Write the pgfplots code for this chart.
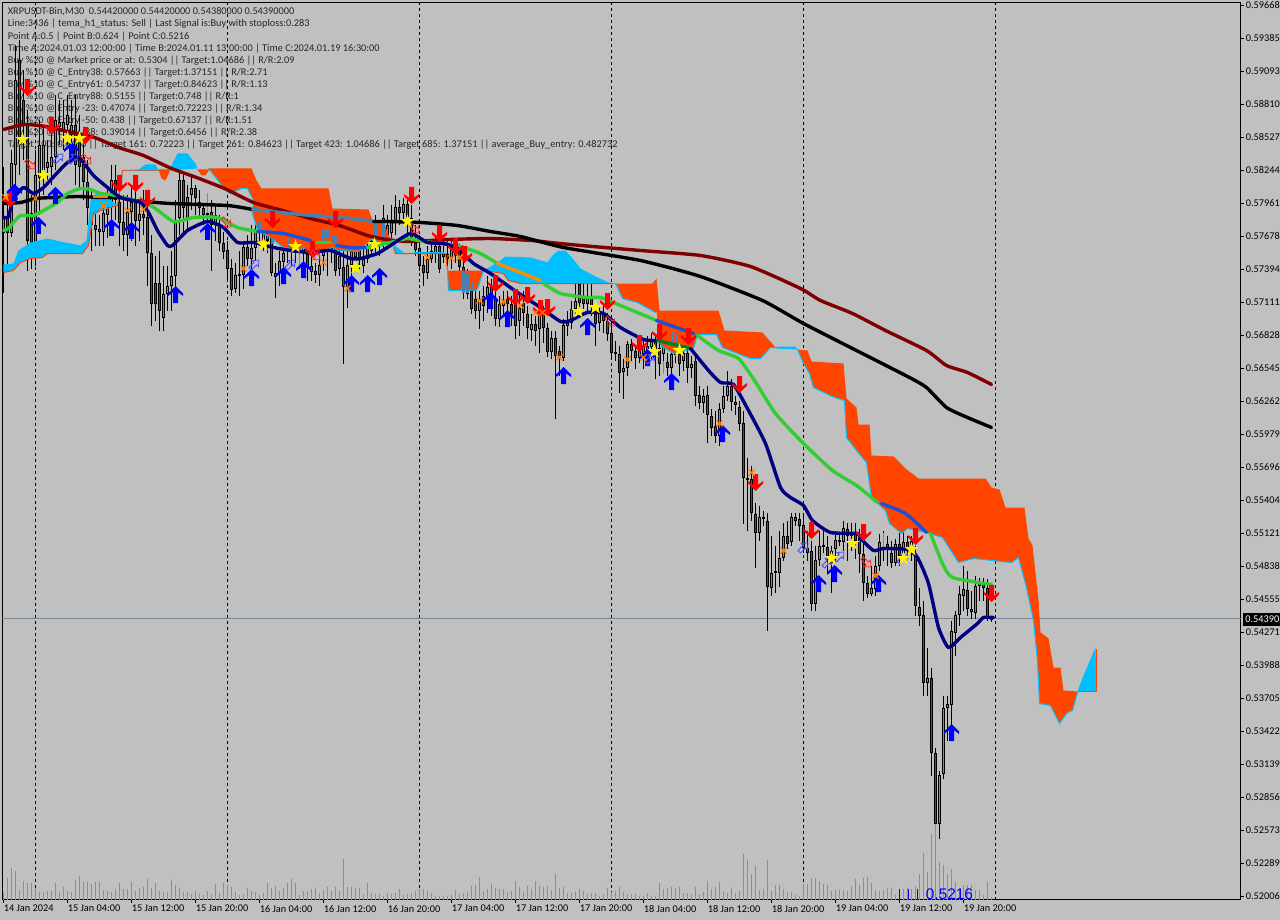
\documentclass[border=0pt]{standalone}
\usepackage{fontspec}
\setmainfont{Carlito}
\newfontfamily\labelfont{Liberation Sans}
\usepackage{pgfplots}
\usepackage{pgfplotstable}
\pgfplotsset{compat=1.18}
\usetikzlibrary{plotmarks}

\definecolor{chartbg}{HTML}{C0C0C0}
\definecolor{bull}{HTML}{2FC070}
\definecolor{bear}{HTML}{D80F40}
\definecolor{cloudor}{HTML}{FF4500}
\definecolor{cloudbl}{HTML}{00BFFF}
\definecolor{madred}{HTML}{800000}
\definecolor{magreen}{HTML}{32CD32}
\definecolor{manavy}{HTML}{000080}
\definecolor{steelx}{HTML}{4682B4}
\definecolor{royalx}{HTML}{1E4FD8}
\definecolor{pricegray}{HTML}{778899}

\pgfplotsset{
  vbar/.style n args={2}{draw=none,no markers,forget plot,error bars/.cd,y dir=plus,y explicit,error mark=none,error bar style={draw=#1,line width=#2}},
  ma/.style={line width=1.7pt,line join=round,line cap=round,smooth,tension=0.35},
}

\pgfdeclareplotmark{dnarrow}{%
  \pgftransformscale{1.25}
  \pgfpathmoveto{\pgfqpoint{0pt}{-3.4pt}}
  \pgfpathlineto{\pgfqpoint{3pt}{-0.4pt}}
  \pgfpathlineto{\pgfqpoint{3pt}{0.6pt}}
  \pgfpathlineto{\pgfqpoint{1pt}{-0.9pt}}
  \pgfpathlineto{\pgfqpoint{1pt}{3.4pt}}
  \pgfpathlineto{\pgfqpoint{-1pt}{3.4pt}}
  \pgfpathlineto{\pgfqpoint{-1pt}{-0.9pt}}
  \pgfpathlineto{\pgfqpoint{-3pt}{0.6pt}}
  \pgfpathlineto{\pgfqpoint{-3pt}{-0.4pt}}
  \pgfpathclose\pgfusepathqfill}
\pgfdeclareplotmark{uparrow}{%
  \pgftransformscale{1.25}
  \pgfpathmoveto{\pgfqpoint{0pt}{3.4pt}}
  \pgfpathlineto{\pgfqpoint{3pt}{0.4pt}}
  \pgfpathlineto{\pgfqpoint{3pt}{-0.6pt}}
  \pgfpathlineto{\pgfqpoint{1pt}{0.9pt}}
  \pgfpathlineto{\pgfqpoint{1pt}{-3.4pt}}
  \pgfpathlineto{\pgfqpoint{-1pt}{-3.4pt}}
  \pgfpathlineto{\pgfqpoint{-1pt}{0.9pt}}
  \pgfpathlineto{\pgfqpoint{-3pt}{-0.6pt}}
  \pgfpathlineto{\pgfqpoint{-3pt}{0.4pt}}
  \pgfpathclose\pgfusepathqfill}
\pgfdeclareplotmark{ystar}{%
  \pgftransformscale{1.15}
  \pgfpathmoveto{\pgfqpoint{0pt}{3.2pt}}
  \pgfpathlineto{\pgfqpoint{-0.73pt}{1.01pt}}
  \pgfpathlineto{\pgfqpoint{-3.04pt}{0.99pt}}
  \pgfpathlineto{\pgfqpoint{-1.19pt}{-0.39pt}}
  \pgfpathlineto{\pgfqpoint{-1.88pt}{-2.59pt}}
  \pgfpathlineto{\pgfqpoint{0pt}{-1.25pt}}
  \pgfpathlineto{\pgfqpoint{1.88pt}{-2.59pt}}
  \pgfpathlineto{\pgfqpoint{1.19pt}{-0.39pt}}
  \pgfpathlineto{\pgfqpoint{3.04pt}{0.99pt}}
  \pgfpathlineto{\pgfqpoint{0.73pt}{1.01pt}}
  \pgfpathclose\pgfusepathqfill}
\newcommand{\hollowpath}{%
  \pgfpathmoveto{\pgfqpoint{0pt}{3.2pt}}
  \pgfpathlineto{\pgfqpoint{-2.2pt}{0.6pt}}
  \pgfpathlineto{\pgfqpoint{-0.9pt}{0.6pt}}
  \pgfpathlineto{\pgfqpoint{-0.9pt}{-3pt}}
  \pgfpathlineto{\pgfqpoint{0.9pt}{-3pt}}
  \pgfpathlineto{\pgfqpoint{0.9pt}{0.6pt}}
  \pgfpathlineto{\pgfqpoint{2.2pt}{0.6pt}}
  \pgfpathclose\pgfusepathqstroke}
\pgfdeclareplotmark{hollowup}{\pgftransformrotate{-45}\hollowpath}
\pgfdeclareplotmark{hollowdn}{\pgftransformrotate{-135}\hollowpath}

% candles, in chart rows: x, body top, body bottom, wick top, wick bottom
\pgfplotstableread{
x top bot hi lo
3 217 233 167 292
11 163 233 150 237
15 80 165 45 200
35 175 242 150 265
39 145 178 120 215
43 145 170 125 195
47 162 168 140 185
51 157 167 125 185
55 120 157 95 170
59 122 127 100 145
63 122 130 100 150
67 115 125 95 145
71 125 135 100 160
99 229 232 215 245
103 213 232 195 245
107 207 215 190 238
111 180 207 165 225
127 212 235 195 255
131 202 212 188 240
139 214 221 200 240
163 293 317 265 330
167 285 293 265 310
171 275 285 250 310
175 220 275 200 285
179 180 218 165 235
187 197 220 185 230
191 188 195 175 210
207 213 215 193 235
215 215 225 205 240
235 274 288 262 292
239 273 275 250 295
243 246 274 240 288
251 247 258 225 270
255 232 247 220 260
259 222 232 205 240
263 230 240 215 250
267 233 240 220 252
279 260 272 250 285
283 252 261 242 270
287 238 248 228 262
291 240 250 225 265
299 242 250 232 268
303 240 252 230 262
319 264 274 250 285
323 229 255 215 270
331 235 248 225 262
339 255 268 245 275
347 264 287 250 307
351 250 264 240 275
355 242 256 230 268
363 258 265 235 272
367 247 258 225 262
371 240 250 222 255
375 233 245 215 252
383 218 240 205 248
387 225 235 215 243
391 222 233 205 238
395 207 222 195 235
403 204 213 198 220
427 258 272 245 278
431 250 258 240 262
435 245 253 235 262
451 247 257 240 268
455 247 255 238 262
467 280 293 268 298
479 298 310 290 328
487 286 298 275 312
499 303 318 295 326
503 300 305 290 315
519 307 320 295 335
531 323 329 313 340
539 308 328 300 352
551 337 351 330 358
563 324 357 318 360
567 322 325 310 335
571 308 322 300 328
575 300 308 282 318
587 297 303 283 310
599 310 322 305 330
623 367 371 358 398
627 343 367 340 375
639 345 357 338 362
643 346 357 338 368
647 345 352 335 362
651 340 346 332 358
663 345 353 338 370
671 353 367 345 372
675 345 354 335 362
683 352 360 345 370
691 363 367 355 377
703 395 402 388 412
719 408 435 402 445
723 395 408 385 412
727 385 395 370 400
759 516 532 505 540
771 572 587 535 595
775 570 572 545 592
779 557 572 530 586
783 535 557 522 560
791 516 541 512 545
815 559 603 545 610
819 545 559 530 565
831 550 562 545 592
835 539 548 530 560
843 527 541 520 550
851 532 535 522 550
871 587 593 565 595
875 565 588 555 595
879 541 565 533 570
883 546 548 530 560
895 543 562 538 565
903 541 552 530 556
927 677 682 647 695
939 774 823 770 838
943 707 773 695 778
947 703 707 695 740
951 630 704 620 725
955 614 632 610 655
959 593 614 585 625
963 588 595 565 610
975 585 612 575 618
979 582 585 577 600
}\upbars
\pgfplotstableread{
x top bot hi lo
7 218 233 205 265
19 60 145 40 175
23 100 125 70 160
27 125 240 110 270
31 213 242 195 268
75 125 165 95 185
79 140 167 115 190
83 157 182 135 200
87 182 208 160 225
91 208 225 190 250
95 225 230 205 245
115 180 200 165 220
119 202 223 180 245
123 222 235 195 250
135 202 221 185 245
143 214 218 190 235
147 217 252 205 285
151 252 303 235 325
155 282 303 255 320
159 282 310 250 330
183 180 208 175 235
195 188 198 185 215
199 202 208 190 218
203 208 215 203 225
211 212 225 200 270
219 225 242 215 250
223 242 251 232 258
227 249 268 240 278
231 267 289 258 295
247 246 258 235 265
271 237 272 228 275
275 272 276 262 297
295 245 250 232 262
307 253 266 240 280
311 265 271 255 280
315 270 274 262 282
327 229 250 220 275
335 236 270 225 275
343 266 286 240 363
359 245 258 235 268
379 235 245 225 255
399 207 213 200 225
407 204 218 200 240
411 218 240 205 245
415 242 249 225 255
419 247 265 235 270
423 264 272 255 285
439 245 268 235 272
443 252 256 240 262
447 253 258 240 265
459 250 266 243 270
463 266 292 258 298
471 290 308 272 313
475 298 310 285 318
483 295 305 285 320
491 285 298 278 315
495 298 318 290 325
507 298 303 290 318
511 303 313 295 325
515 297 325 290 338
523 302 312 290 325
527 313 327 305 338
535 323 330 315 345
543 310 327 305 342
547 327 351 322 356
555 337 355 330 418
559 350 358 345 375
579 283 302 280 312
583 295 303 283 310
591 297 305 283 315
595 313 323 305 345
603 312 320 305 332
607 320 333 312 340
611 332 352 318 358
615 351 353 340 360
619 353 372 345 392
631 343 350 338 360
635 350 357 345 368
655 340 348 335 378
659 347 363 340 375
667 361 367 352 375
679 353 363 348 375
687 352 367 345 382
695 360 395 352 405
699 394 402 385 408
707 394 414 385 442
711 415 427 408 435
715 425 435 410 442
731 385 401 378 410
735 401 404 395 414
739 406 423 400 430
743 422 477 410 523
747 477 479 457 530
751 478 512 465 520
755 513 532 502 567
763 516 518 510 525
767 520 586 512 630
787 535 543 520 548
795 516 520 512 525
799 518 525 512 540
803 524 547 512 552
807 547 552 530 560
811 550 603 540 610
823 544 546 530 552
827 546 557 535 572
839 539 541 532 545
847 528 535 522 560
855 533 540 522 558
859 537 553 528 572
863 553 582 540 600
867 582 593 575 597
887 543 548 535 565
891 552 562 540 567
899 543 555 532 565
907 541 547 535 558
911 540 552 535 560
915 552 605 545 615
919 606 615 587 625
923 614 682 600 695
931 677 752 667 775
935 752 823 747 823
967 589 608 570 615
971 608 611 590 618
983 582 587 577 600
987 587 617 578 620
991 617 619 616 621
}\downbars
% bars seen through the cloud
\pgfplotstableread{
x top bot
259 222 230
272 237 243
288 238 248
323 229 240
327 229 238
332 235 240
335 236 242
375 223 237
383 223 238
463 271 292
467 273 292
472 280 290
672 330 343
676 332 342
}\seenbars
\pgfplotstableread{
x top bot
207 193 213
299 252 267
358 262 272
663 360 373
883 532 547
}\signalbars
% tick volume, bar height in rows
\pgfplotstableread[row sep=\\]{
x h\\ 3 8\\ 7 22\\ 11 32\\ 15 29\\ 19 10\\ 23 19\\ 27 17\\ 31 17\\ 35 12\\ 39 8\\
43 8\\ 47 9\\ 51 9\\ 55 17\\ 59 8\\ 63 13\\ 67 9\\ 71 8\\ 75 20\\ 79 24\\
83 18\\ 87 18\\ 91 16\\ 95 18\\ 99 18\\ 103 10\\ 107 9\\ 111 8\\ 115 11\\ 119 17\\
123 11\\ 127 11\\ 131 18\\ 135 9\\ 139 12\\ 143 13\\ 147 21\\ 151 12\\ 155 17\\ 159 9\\
163 8\\ 167 8\\ 171 20\\ 175 15\\ 179 12\\ 183 8\\ 187 8\\ 191 6\\ 195 9\\ 199 6\\
203 5\\ 207 9\\ 211 6\\ 215 16\\ 219 7\\ 223 17\\ 227 15\\ 231 13\\ 235 8\\ 239 5\\
243 6\\ 247 12\\ 251 9\\ 255 8\\ 259 5\\ 263 7\\ 267 17\\ 271 12\\ 275 14\\ 279 9\\
283 12\\ 287 17\\ 291 21\\ 295 17\\ 299 5\\ 303 9\\ 307 9\\ 311 11\\ 315 12\\ 319 7\\
323 10\\ 327 13\\ 331 9\\ 335 13\\ 339 9\\ 343 41\\ 347 13\\ 351 13\\ 355 12\\ 359 12\\
363 6\\ 367 17\\ 371 7\\ 375 6\\ 379 6\\ 383 4\\ 387 7\\ 391 6\\ 395 7\\ 399 11\\
403 5\\ 407 6\\ 411 7\\ 415 9\\ 419 11\\ 423 11\\ 427 9\\ 431 7\\ 435 4\\ 439 4\\
443 4\\ 447 4\\ 451 5\\ 455 10\\ 459 6\\ 463 7\\ 467 8\\ 471 14\\ 475 15\\ 479 23\\
483 9\\ 487 11\\ 491 16\\ 495 12\\ 499 11\\ 503 11\\ 507 8\\ 511 9\\ 515 19\\ 519 13\\
523 8\\ 527 14\\ 531 11\\ 535 19\\ 539 14\\ 543 13\\ 547 14\\ 551 10\\ 555 26\\ 559 12\\
563 13\\ 567 7\\ 571 7\\ 575 8\\ 579 11\\ 583 9\\ 587 6\\ 591 7\\ 595 7\\ 599 4\\
603 6\\ 607 12\\ 611 8\\ 615 9\\ 619 13\\ 623 8\\ 627 6\\ 631 6\\ 635 6\\ 639 4\\
643 4\\ 647 7\\ 651 4\\ 655 4\\ 659 17\\ 663 11\\ 667 12\\ 671 13\\ 675 12\\ 679 13\\
683 7\\ 687 7\\ 691 6\\ 695 13\\ 699 6\\ 703 8\\ 707 19\\ 711 11\\ 715 13\\ 719 18\\
723 8\\ 727 7\\ 731 12\\ 735 7\\ 739 9\\ 743 46\\ 747 40\\ 751 26\\ 755 34\\ 759 10\\
763 11\\ 767 40\\ 771 9\\ 775 15\\ 779 15\\ 783 11\\ 787 8\\ 791 8\\ 795 5\\ 799 4\\
803 16\\ 807 16\\ 811 22\\ 815 22\\ 819 19\\ 823 16\\ 827 15\\ 831 9\\ 835 10\\ 839 10\\
843 10\\ 847 9\\ 851 14\\ 855 21\\ 859 15\\ 863 22\\ 867 23\\ 871 17\\ 875 10\\ 879 9\\
883 10\\ 887 12\\ 891 12\\ 895 5\\ 899 9\\ 903 11\\ 907 12\\ 911 11\\ 915 14\\ 919 26\\
923 47\\ 927 28\\ 931 66\\ 935 77\\ 939 38\\ 943 35\\ 947 26\\ 951 31\\ 955 18\\ 959 12\\
963 15\\ 967 15\\ 971 15\\ 975 10\\ 979 10\\ 983 5\\ 987 18\\ 991 3\\
}\volumes

\newcommand{\hfont}{\fontsize{5.15}{6}\selectfont}
\newcommand{\hdr}[2]{\node[anchor=west,inner sep=0pt,font=\hfont,text=black!85] at (axis cs:7,#1) {#2};}

\begin{document}
\begin{tikzpicture}[x=1pt,y=1pt]
\useasboundingbox (0,0) rectangle (640,460);
\fill[chartbg] (0,0) rectangle (640,460);
\begin{axis}[
  at={(1.25pt,10.25pt)}, anchor=south west,
  scale only axis, width=619pt, height=448.5pt,
  xmin=2, xmax=1240, ymin=2, ymax=899, y dir=reverse,
  axis line style={line width=0.5pt},
  tick align=outside, major tick length=1.5pt,
  tick style={line width=0.5pt,black},
  xtick pos=bottom, ytick pos=right,
  xtick={3,67,131,195,259,323,387,451,515,579,643,707,771,835,899,963},
  xticklabels={14 Jan 2024,15 Jan 04:00,15 Jan 12:00,15 Jan 20:00,16 Jan 04:00,16 Jan 12:00,16 Jan 20:00,17 Jan 04:00,17 Jan 12:00,17 Jan 20:00,18 Jan 04:00,18 Jan 12:00,18 Jan 20:00,19 Jan 04:00,19 Jan 12:00,19 Jan 20:00},
  ytick={5,38,71,104,137,170,203,236,269,302,335,368,401,434,467,500,533,566,599,632,665,698,731,764,797,830,863,896},
  yticklabels={0.59668,0.59385,0.59093,0.58810,0.58527,0.58244,0.57961,0.57678,0.57394,0.57111,0.56828,0.56545,0.56262,0.55979,0.55696,0.55404,0.55121,0.54838,0.54555,0.54271,0.53988,0.53705,0.53422,0.53139,0.52856,0.52573,0.52289,0.52006},
  xticklabel style={font=\hfont,anchor=north west,inner sep=0pt,yshift=-1.2pt,xshift=0pt},
  yticklabel style={font=\hfont,anchor=west,inner sep=0pt,xshift=1pt},
]
% day separators
\addplot[black,line width=0.5pt,dash pattern=on 1.5pt off 1.5pt,unbounded coords=jump] coordinates {(35,2)(35,899)(35,nan)(227,2)(227,899)(227,nan)(419,2)(419,899)(419,nan)(611,2)(611,899)(611,nan)(803,2)(803,899)(803,nan)(995,2)(995,899)};
% last price
\addplot[pricegray,line width=0.5pt] coordinates {(2,618)(1240,618)};

\hdr{11}{XRPUSDT-Bin,M30\ \ 0.54420000 0.54420000 0.54380000 0.54390000}
\hdr{23}{Line:3436 | tema\_h1\_status: Sell | Last Signal is:Buy with stoploss:0.283}
\hdr{36}{Point A:0.5 | Point B:0.624 | Point C:0.5216}
\hdr{48}{Time A:2024.01.03 12:00:00 | Time B:2024.01.11 13:00:00 | Time C:2024.01.19 16:30:00}
\hdr{60}{Buy \%20 @ Market price or at: 0.5304 || Target:1.04686 || R/R:2.09}
\hdr{72}{Buy \%10 @ C\_Entry38: 0.57663 || Target:1.37151 || R/R:2.71}
\hdr{84}{Buy \%10 @ C\_Entry61: 0.54737 || Target:0.84623 || R/R:1.13}
\hdr{96}{Buy \%10 @ C\_Entry88: 0.5155 || Target:0.748 || R/R:1}
\hdr{108}{Buy \%10 @ Entry -23: 0.47074 || Target:0.72223 || R/R:1.34}
\hdr{120}{Buy \%20 @ Entry -50: 0.438 || Target:0.67137 || R/R:1.51}
\hdr{132}{Buy \%20 @ Entry -88: 0.39014 || Target:0.6456 || R/R:2.38}
\hdr{144}{Target 100: 0.6456 || Target 161: 0.72223 || Target 261: 0.84623 || Target 423: 1.04686 || Target 685: 1.37151 || average\_Buy\_entry: 0.482732}

% volume
\addplot[vbar={magreen}{0.7pt}] table[x=x,y expr=899-\thisrow{h},y error plus expr=\thisrow{h}] {\volumes};

% wicks
\addplot[vbar={black}{0.5pt}] table[x=x,y=hi,y error plus expr=\thisrow{lo}-\thisrow{hi}] {\upbars};
\addplot[vbar={black}{0.5pt}] table[x=x,y=hi,y error plus expr=\thisrow{lo}-\thisrow{hi}] {\downbars};
% bodies: black box, coloured core
\addplot[vbar={black}{1.6pt}] table[x=x,y=top,y error plus expr=\thisrow{bot}-\thisrow{top}] {\upbars};
\addplot[vbar={black}{1.6pt}] table[x=x,y=top,y error plus expr=\thisrow{bot}-\thisrow{top}] {\downbars};
\addplot[vbar={bull}{0.85pt}] table[x=x,y expr=\thisrow{top}+1,y error plus expr={max(\thisrow{bot}-\thisrow{top}-2,0)}] {\upbars};
\addplot[vbar={bear}{0.85pt}] table[x=x,y expr=\thisrow{top}+1,y error plus expr={max(\thisrow{bot}-\thisrow{top}-2,0)}] {\downbars};

% cloud
\addplot[draw=none,fill=cloudbl] coordinates {(3,264)(13,263)(18,250)(30,242)(47,238)(60,241)(80,245)(86,240)(90,200)(98,190)(107,197)(117,205)(103,208)(93,215)(88,245)(82,253)(47,253)(42,257)(30,258)(20,262)(13,270)(3,272)} --cycle;
\addplot[cloudor,line width=0.5pt] coordinates {(3,272)(13,270)(20,262)(30,258)(42,257)(47,253)(82,253)(88,245)(93,212)(117,205)(122,170)(158,170)};
\addplot[draw=none,fill=cloudbl] coordinates {(122,170)(138,169)(145,164)(155,164)(158,170)} --cycle;
\addplot[draw=none,fill=cloudor] coordinates {(158,169)(170,169)(165,180)(161,178)} --cycle;
\addplot[draw=none,fill=cloudbl] coordinates {(168,170)(172,163)(177,153)(187,153)(195,163)(197,168)} --cycle;
\addplot[draw=none,fill=cloudor] coordinates {(197,169)(209,169)(205,175)(201,175)} --cycle;
\addplot[draw=none,fill=cloudor] coordinates {(208,168)(251,168)(256,180)(261,188)(328,188)(332,208)(368,209)(372,220)(383,220)(387,232)(392,243)(377,242)(373,237)(358,251)(337,250)(332,247)(313,255)(303,247)(295,252)(287,247)(283,247)(270,237)(257,230)(252,213)(253,200)(247,188)(241,188)(229,193)(220,183)} --cycle;
\addplot[cloudbl,line width=0.5pt] coordinates {(208,168)(220,183)(229,193)(241,188)(247,188)(253,200)(252,213)(257,230)(270,237)(283,247)(287,247)(295,252)(303,247)(313,255)(332,247)(337,250)(358,251)(373,237)(377,242)(392,243)};
\addplot[draw=none,fill=cloudbl] coordinates {(392,243)(403,252)(395,253)} --cycle;
\addplot[cloudor,line width=0.5pt] coordinates {(393,247)(395,253)(445,253)(447,270)};
\addplot[cloudbl,line width=0.5pt] coordinates {(413,252)(443,252)};
\addplot[draw=none,fill=cloudor] coordinates {(447,270)(483,270)(478,287)(476,290)(448,290)} --cycle;
\addplot[cloudbl,line width=0.5pt] coordinates {(447,270)(448,290)(476,290)(483,270)};
\addplot[draw=none,fill=cloudbl] coordinates {(483,270)(497,262)(505,256)(530,257)(547,262)(552,255)(558,250)(565,250)(572,258)(580,268)(593,275)(608,282)(613,283)(520,283)(508,280)(503,273)} --cycle;
\addplot[cloudor,line width=0.5pt] coordinates {(483,270)(503,273)(508,280)(520,283)(613,283)};
\addplot[draw=none,fill=cloudor] coordinates {(613,283)(652,283)(656,278)(659,310)(655,312)(637,302)(622,298)(617,285)} --cycle;
\addplot[cloudbl,line width=0.5pt] coordinates {(615,283)(622,298)(637,302)(655,312)};
\addplot[draw=none,fill=cloudor] coordinates {(656,310)(718,310)(724,330)(762,332)(775,347)(770,347)(760,358)(750,358)(722,347)(716,334)(697,334)(693,348)(673,353)(660,345)(657,320)} --cycle;
\addplot[cloudbl,line width=0.5pt] coordinates {(657,320)(660,345)(673,353)(693,348)(697,334)(716,334)(722,347)(750,358)(760,358)(770,347)(775,347)};
\addplot[draw=none,fill=cloudbl] coordinates {(775,346)(795,346)(797,349)(775,348)} --cycle;
\addplot[draw=none,fill=cloudor] coordinates {(797,349)(807,350)(811,361)(843,363)(846,398)(856,407)(858,424)(869,424)(871,455)(893,456)(905,468)(918,478)(985,478)(991,487)(999,489)(1005,507)(1024,507)(1028,538)(1032,545)(1038,600)(1040,632)(1048,638)(1053,667)(1060,667)(1063,690)(1077,691)(1072,710)(1067,712)(1059,723)(1050,705)(1039,703)(1037,660)(1033,620)(1026,587)(1018,557)(1011,562)(973,558)(958,562)(942,537)(926,532)(907,528)(901,533)(889,523)(885,510)(871,497)(866,462)(856,450)(846,437)(844,400)(834,397)(813,387)(809,373)(803,363)} --cycle;
\addplot[cloudbl,line width=0.5pt] coordinates {(797,349)(803,363)(809,373)(813,387)(834,397)(844,400)(846,437)(856,450)(866,462)(871,497)(885,510)(889,523)(901,533)(907,528)(926,532)(942,537)(958,562)(973,558)(1011,562)(1018,557)(1026,587)(1033,620)(1037,660)(1039,703)(1050,705)(1059,723)(1067,712)(1072,710)(1077,692)};
\addplot[draw=none,fill=cloudbl] coordinates {(1077,691)(1083,675)(1095,647)(1096,691)} --cycle;
\addplot[cloudor,line width=0.5pt] coordinates {(1077,691)(1096,691)(1096,648)};

% candle bodies showing through
\addplot[vbar={steelx}{1.5pt}] table[x=x,y=top,y error plus expr=\thisrow{bot}-\thisrow{top}] {\seenbars};
\addplot[vbar={green!90!black}{0.5pt}] table[x=x,y=top,y error plus expr=\thisrow{bot}-\thisrow{top}] {\signalbars};

% moving averages
\addplot[madred,ma] coordinates {(3,129)(24,124)(45,126)(71,132)(94,137)(118,147)(143,155)(171,168)(196,177)(224,188)(253,202)(282,210)(310,218)(339,225)(367,235)(386,239)(408,241)(449,239)(490,238)(531,240)(559,243)(592,246)(640,250)(700,255)(750,266)(800,288)(820,300)(852,313)(885,330)(926,350)(946,365)(967,372)(991,384)};
\addplot[black,ma] coordinates {(3,203)(20,202)(35,198)(53,197)(77,196)(100,197)(120,197)(133,200)(170,203)(227,205)(252,209)};
\addplot[steelx,ma] coordinates {(252,209)(300,214)(350,218)(373,221)};
\addplot[black,ma] coordinates {(373,221)(387,221)(420,222)(457,225)(490,231)(520,236)(563,247)(640,260)(700,276)(762,300)(803,323)(852,348)(909,377)(926,387)(946,407)(967,417)(991,427)};
\addplot[magreen,ma] coordinates {(3,230)(8,228)(13,222)(20,215)(33,215)(43,210)(57,202)(67,193)(80,188)(90,189)(100,193)(115,195)(150,205)(173,221)(193,217)(217,217)(237,227)(257,231)};
\addplot[royalx,ma] coordinates {(257,231)(283,233)(310,240)};
\addplot[magreen,ma] coordinates {(313,242)(330,242)};
\addplot[royalx,ma] coordinates {(336,245)(350,247)(367,247)};
\addplot[magreen,ma] coordinates {(367,247)(390,242)(407,238)(423,241)(440,243)(460,246)(480,253)(497,263)};
\addplot[orange!90!yellow,ma] coordinates {(497,263)(520,272)(540,280)};
\addplot[magreen,ma] coordinates {(543,283)(560,293)(587,297)(600,297)(620,305)(656,320)};
\addplot[royalx,ma] coordinates {(656,320)(693,333)};
\addplot[magreen,ma] coordinates {(697,335)(718,350)(738,358)(754,380)(775,413)(803,443)(832,470)(856,485)(877,502)};
\addplot[royalx,ma] coordinates {(881,503)(905,513)(926,532)};
\addplot[magreen,ma] coordinates {(930,533)(942,563)(952,577)(991,584)};
\addplot[manavy,ma] coordinates {(3,217)(8,216)(13,198)(23,187)(33,193)(43,187)(57,172)(67,162)(77,157)(83,162)(93,175)(107,187)(120,197)(140,202)(148,212)(157,230)(167,245)(172,245)(187,230)(207,221)(223,227)(237,242)(253,242)(273,247)(290,250)(310,252)(330,250)(350,258)(360,258)(377,253)(390,245)(410,233)(427,242)(443,243)(457,248)(473,263)(490,273)(517,292)(540,307)(560,321)(570,320)(587,312)(603,313)(620,327)(643,339)(657,340)};
\addplot[green!40!black!85!cyan,ma] coordinates {(657,340)(690,348)};
\addplot[manavy,ma] coordinates {(690,348)(708,370)(720,382)(733,384)(748,410)(765,443)(780,487)(790,497)(803,505)(812,520)(830,532)(857,533)(860,538)(873,550)(883,548)(907,549)(917,557)(928,583)(938,627)(948,647)(960,637)(977,623)(983,617)(993,617)};
\addplot[orange!70!brown,line width=1.5pt] coordinates {(92,196)(107,196)};

% signals
\addplot[only marks,mark=dnarrow,mark options={fill=red,draw=none}] coordinates {(10,198)(27,87)(51,125)(85,135)(119,183)(135,183)(147,198)(272,219)(312,249)(335,219)(411,195)(439,233)(455,246)(464,254)(495,283)(515,297)(527,295)(540,308)(547,307)(607,301)(639,343)(659,332)(688,336)(739,384)(755,482)(811,530)(863,532)(915,536)(991,593)};
\addplot[only marks,mark=uparrow,mark options={fill=blue,draw=none}] coordinates {(14,192)(38,225)(55,195)(71,150)(111,227)(131,230)(175,294)(207,231)(251,277)(283,275)(303,269)(351,283)(367,283)(379,276)(490,300)(507,318)(563,375)(587,326)(647,357)(671,381)(722,433)(818,583)(834,573)(878,583)(951,732)};
\addplot[only marks,mark=hollowup,mark options={draw=blue!70!white,line width=0.4pt}] coordinates {(58,158)(73,158)(254,264)(290,264)(650,358)(803,547)(827,562)(839,556)(902,558)};
\addplot[only marks,mark=hollowdn,mark options={draw=red!85!white,line width=0.4pt}] coordinates {(30,164)(86,159)(226,222)(315,255)(414,228)(610,321)(866,562)};
\addplot[only marks,mark=x,mark size=2.2pt,mark options={draw=orange,line width=0.7pt}] coordinates {(5,197)(35,198)(103,205)(127,210)(143,209)(243,268)(323,262)(347,288)(427,257)(451,258)(459,257)(479,300)(503,301)(520,305)(535,312)(542,312)(559,357)(627,359)(643,357)(719,423)(751,472)(783,550)(875,575)};
\addplot[only marks,mark=ystar,mark options={fill=yellow,draw=none}] coordinates {(22,139)(43,175)(67,138)(79,138)(263,244)(295,246)(355,267)(374,244)(407,221)(578,311)(595,307)(654,351)(679,350)(831,558)(852,543)(903,558)(911,549)};

% fibo label
\draw[blue,line width=0.4pt] (axis cs:899,888)--(axis cs:899,899) (axis cs:908,888)--(axis cs:908,899) (axis cs:917,888)--(axis cs:917,899);
\node[anchor=west,inner sep=0pt,text=blue,font=\labelfont\fontsize{7.7}{8}\selectfont] at (axis cs:925,893.5) {0.5216};
\end{axis}
\fill[black] (621.5,147) rectangle (640,153.5);
\node[anchor=west,text=white,font=\hfont,inner sep=0pt] at (622.5,150.25) {0.54390};
\end{tikzpicture}
\end{document}
